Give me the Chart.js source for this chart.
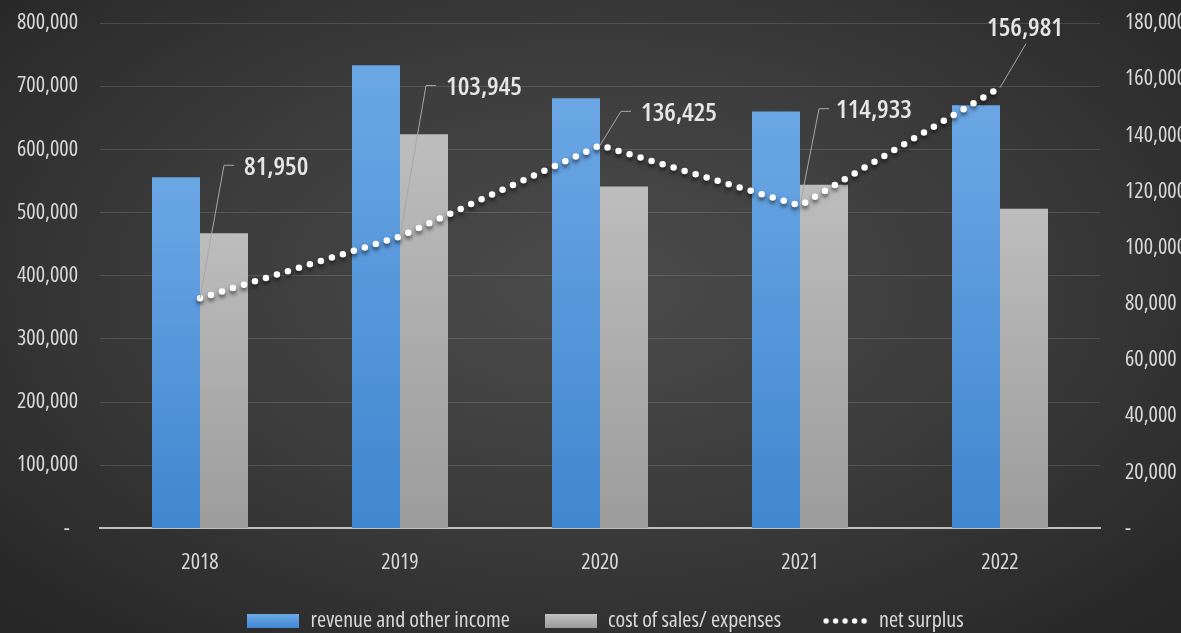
<!DOCTYPE html>
<html>
<head>
<meta charset="utf-8">
<title>Revenue, costs and net surplus 2018-2022</title>
<script src="https://cdn.jsdelivr.net/npm/chart.js@4.4.1/dist/chart.umd.min.js"></script>
<style>
  html, body { margin: 0; padding: 0; overflow: hidden; }
  body {
    width: 1181px; height: 633px;
    background: radial-gradient(ellipse 70% 75% at 50% 45%, #4b4b4b 0%, #3d3d3d 45%, #262626 100%);
  }
  #wrap { position: relative; width: 1181px; height: 633px; }
</style>
</head>
<body>
<div id="wrap"><canvas id="financeChart"></canvas></div>
<script>
// values in currency units, one entry per year
const years = ['2018', '2019', '2020', '2021', '2022'];
const revenue = [556000, 733000, 681000, 660000, 670000];
const costs = [467000, 624000, 541000, 544000, 506000];
const surplus = [81950, 103945, 136425, 114933, 156981];

// axis ranges
const leftMax = 800000, leftStep = 100000;
const rightMax = 180000, rightStep = 20000;

// Open Sans is variable in width, so 'condensed' gives a narrow face
const FAMILY = "'Open Sans', sans-serif";
const textColor = '#d9d9d9';
const tickFont = { family: FAMILY, size: 22, weight: 'condensed' };
const legendFont = { family: FAMILY, size: 22, weight: 'condensed' };
const calloutFont = "600 condensed 26px " + FAMILY;

// where each surplus callout sits relative to its point
const callouts = [
    { ex: 24, ey: -133, gap: 10 },
    { ex: 26, ey: -151, gap: 10 },
    { ex: 21, ey: -34, gap: 10 },
    { ex: 19, ey: -97, gap: 7 },
    { ex: 26, ey: -44, above: true }
];

const fmt = v => v === 0 ? '-' : v.toLocaleString('en-US');

function barGradient(ctx, top, bottom) {
    const chart = ctx.chart;
    if (!chart.chartArea || !chart.scales.y) return top;
    const v = ctx.raw || 0;
    const y0 = chart.scales.y.getPixelForValue(v);
    const y1 = chart.scales.y.getPixelForValue(0);
    const g = chart.ctx.createLinearGradient(0, y0, 0, y1);
    g.addColorStop(0, top);
    g.addColorStop(1, bottom);
    return g;
}

// little canvases used as legend markers
function boxSwatch(top, bottom) {
    const c = document.createElement('canvas');
    c.width = 52; c.height = 14;
    const x = c.getContext('2d');
    const g = x.createLinearGradient(0, 0, 0, 14);
    g.addColorStop(0, top);
    g.addColorStop(1, bottom);
    x.fillStyle = g;
    x.fillRect(0, 0, 52, 14);
    return c;
}
function dotSwatch() {
    const c = document.createElement('canvas');
    c.width = 52; c.height = 14;
    const x = c.getContext('2d');
    x.fillStyle = '#ffffff';
    for (let i = 0; i < 5; i++) {
        x.beginPath();
        x.arc(10 + i * 9.5, 7, 2.7, 0, Math.PI * 2);
        x.fill();
    }
    return c;
}

// drop shadow under the dotted surplus line
const lineShadow = {
    id: 'lineShadow',
    beforeDatasetDraw(chart, args) {
        if (chart.data.datasets[args.index].type !== 'line') return;
        const ctx = chart.ctx;
        ctx.save();
        ctx.shadowColor = 'rgba(0,0,0,0.6)';
        ctx.shadowBlur = 4;
        ctx.shadowOffsetY = 3;
    },
    afterDatasetDraw(chart, args) {
        if (chart.data.datasets[args.index].type !== 'line') return;
        chart.ctx.restore();
    }
};

// value labels with leader lines for the surplus series
const surplusCallouts = {
    id: 'surplusCallouts',
    afterDatasetsDraw(chart) {
        const meta = chart.getDatasetMeta(2);
        const ctx = chart.ctx;
        ctx.save();
        ctx.font = calloutFont;
        ctx.fillStyle = '#e6e6e6';
        ctx.strokeStyle = '#a8a8a8';
        ctx.lineWidth = 1;
        meta.data.forEach((pt, i) => {
            const c = callouts[i];
            const ex = pt.x + c.ex, ey = pt.y + c.ey;
            const label = fmt(surplus[i]);
            ctx.beginPath();
            ctx.moveTo(pt.x, pt.y);
            ctx.lineTo(ex, ey);
            if (c.above) {
                ctx.stroke();
                ctx.textAlign = 'center';
                ctx.textBaseline = 'bottom';
                ctx.fillText(label, ex - 1, ey - 2);
            } else {
                ctx.lineTo(ex + 10, ey);
                ctx.stroke();
                ctx.textAlign = 'left';
                ctx.textBaseline = 'middle';
                ctx.fillText(label, ex + 10 + c.gap, ey + 2);
            }
        });
        ctx.restore();
    }
};

// nudge the legend row a little right of the canvas centre
const legendNudge = {
    id: 'legendNudge',
    afterLayout(chart) {
        chart.legend.left += 15;
        chart.legend.right += 15;
    }
};

// keep the plot area flush with the layout padding
const noEdgePadding = s => { s.paddingTop = 0; s.paddingBottom = 0; };

const swatches = [boxSwatch('#6ea9e7', '#3f88d2'), boxSwatch('#c2c2c2', '#9a9a9a'), dotSwatch()];

new Chart(document.getElementById('financeChart'), {
    data: {
        labels: years,
        datasets: [
            {
                type: 'bar',
                label: 'revenue and other income',
                data: revenue,
                yAxisID: 'y',
                order: 1,
                backgroundColor: ctx => barGradient(ctx, '#6ba7e5', '#4087d0'),
                barPercentage: 1,
                categoryPercentage: 0.48
            },
            {
                type: 'bar',
                label: 'cost of sales/ expenses',
                data: costs,
                yAxisID: 'y',
                order: 1,
                backgroundColor: ctx => barGradient(ctx, '#bdbdbd', '#9c9c9c'),
                barPercentage: 1,
                categoryPercentage: 0.48
            },
            {
                type: 'line',
                label: 'net surplus',
                data: surplus,
                yAxisID: 'y1',
                order: 0,
                borderColor: '#ffffff',
                borderWidth: 6.5,
                borderDash: [0, 11.5],
                borderCapStyle: 'round',
                pointRadius: 0,
                tension: 0,
                fill: false
            }
        ]
    },
    options: {
        responsive: true,
        maintainAspectRatio: false,
        animation: false,
        layout: { padding: { top: 23, left: 0, right: 0, bottom: -9 } },
        scales: {
            x: {
                afterFit: s => { s.height = 46.6; },
                grid: { display: false, drawTicks: false },
                border: { display: true, color: '#bfbfbf', width: 2 },
                ticks: { color: textColor, font: tickFont, padding: 21 }
            },
            y: {
                position: 'left',
                min: 0,
                max: leftMax,
                afterFit: s => { s.width = 100; noEdgePadding(s); },
                border: { display: false },
                grid: { color: 'rgba(255,255,255,0.13)', drawTicks: false },
                ticks: {
                    stepSize: leftStep,
                    padding: 22,
                    color: textColor,
                    font: tickFont,
                    callback: v => v === 0 ? '-  ' : fmt(v)
                }
            },
            y1: {
                position: 'right',
                min: 0,
                max: rightMax,
                afterFit: s => { s.width = 81; noEdgePadding(s); },
                border: { display: false },
                grid: { display: false, drawOnChartArea: false, drawTicks: false },
                ticks: {
                    stepSize: rightStep,
                    padding: 25,
                    color: textColor,
                    font: tickFont,
                    callback: fmt
                }
            }
        },
        plugins: {
            tooltip: { enabled: false },
            legend: {
                position: 'bottom',
                labels: {
                    usePointStyle: true,
                    pointStyleWidth: 52,
                    padding: 35,
                    color: textColor,
                    font: legendFont,
                    generateLabels: chart => chart.data.datasets.map((ds, i) => ({
                        text: ds.label,
                        pointStyle: swatches[i],
                        fillStyle: 'transparent',
                        strokeStyle: 'transparent',
                        lineWidth: 0,
                        fontColor: textColor,
                        hidden: false,
                        datasetIndex: i
                    }))
                }
            }
        }
    },
    plugins: [lineShadow, surplusCallouts, legendNudge]
});
</script>
</body>
</html>
